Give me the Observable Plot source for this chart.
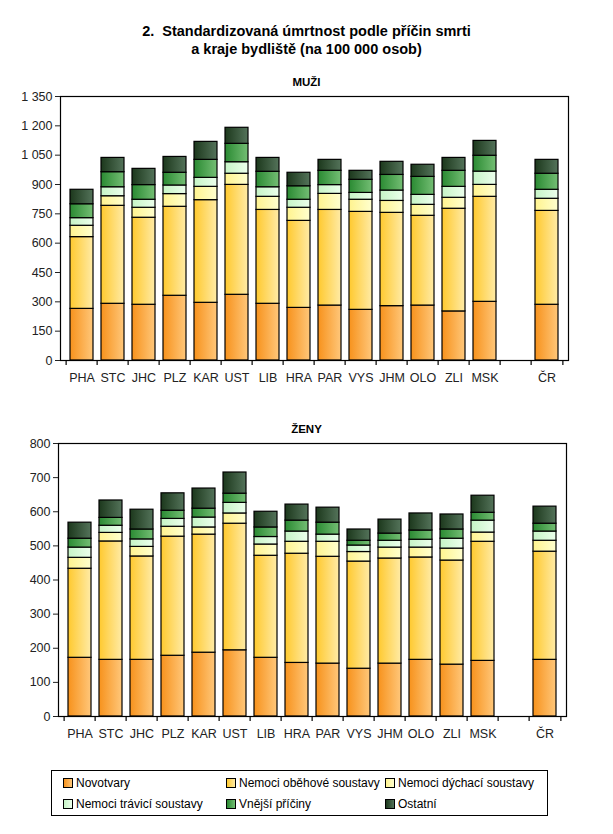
<!DOCTYPE html>
<html><head><meta charset="utf-8">
<script src="https://cdn.jsdelivr.net/npm/d3@7"></script>
<script src="https://cdn.jsdelivr.net/npm/@observablehq/plot@0.6"></script>
<style>
body{margin:0;background:#fff;font-family:"Liberation Sans",Arial,sans-serif;}
#wrap{position:relative;width:613px;height:834px;}
.t{position:absolute;left:0;width:613px;text-align:center;font-weight:bold;color:#000;}
#legend{position:absolute;left:51px;top:770px;width:495px;height:44px;border:1px solid #000;font-size:12px;}
.li{position:absolute;display:flex;align-items:center;white-space:nowrap;color:#000;}
.sw{width:10px;height:10px;border:1px solid #000;margin-right:3px;box-sizing:border-box;}
</style></head>
<body><div id="wrap">
<svg width="0" height="0" style="position:absolute">
<defs id="grads"></defs>
</svg>
<div class="t" style="top:22px;font-size:14.5px;line-height:18px;">2.&nbsp; Standardizovaná úmrtnost podle příčin smrti<br>a kraje bydliště (na 100 000 osob)</div>
<div class="t" style="top:76px;font-size:11.5px;">MUŽI</div>
<div id="c1" style="position:absolute;left:0;top:90px;"></div>
<div class="t" style="top:423px;font-size:11.5px;">ŽENY</div>
<div id="c2" style="position:absolute;left:0;top:437px;"></div>
<div id="legend"></div>
</div>
<script>
const regions = ["PHA","STC","JHC","PLZ","KAR","UST","LIB","HRA","PAR","VYS","JHM","OLO","ZLI","MSK"," ","ČR"];
const causes = ["Novotvary","Nemoci oběhové soustavy","Nemoci dýchací soustavy","Nemoci trávicí soustavy","Vnější příčiny","Ostatní"];
const gradLeft  = ["#f7921c","#ffc92e","#fff38f","#c6f4c6","#2a8a32","#1c381c"];
const gradRight = ["#ffc77a","#ffeba6","#ffffcf","#ecffec","#74be74","#54735a"];
// cumulative tops per cause (men), regions in order incl. blank slot (null)
const menNovotvary = [264,290,285,331,295,336,290,269,281,259,278,281,251,300,null,285];
const menObehove   = [631,791,730,786,820,898,770,714,770,760,755,740,776,837,null,765];
const menDychaci   = [689,840,781,851,888,955,837,781,852,822,816,796,832,898,null,827];
const menTravici   = [728,886,822,895,934,1014,886,822,897,857,869,847,888,966,null,873];
const menVnejsi    = [799,963,897,960,1026,1108,965,891,970,924,949,939,970,1047,null,955];
const menOstatni   = [873,1036,980,1041,1118,1190,1036,960,1026,970,1016,1001,1036,1123,null,1026];
const womenNovotvary = [172,166,166,178,187,194,172,157,155,140,155,166,152,163,null,166];
const womenObehove   = [433,513,469,527,533,565,471,477,468,454,463,466,457,512,null,483];
const womenDychaci   = [465,538,497,556,554,595,504,512,512,482,495,495,492,539,null,515];
const womenTravici   = [495,559,519,579,583,626,526,542,533,501,515,518,521,574,null,542];
const womenVnejsi    = [521,582,548,603,609,653,554,574,568,515,536,545,548,597,null,565];
const womenOstatni   = [568,633,606,654,668,715,600,621,612,548,577,595,592,647,null,615];
const menTicks = [0,150,300,450,600,750,900,1050,1200,1350];
const womenTicks = [0,100,200,300,400,500,600,700,800];

// gradients
const defs = document.getElementById("grads");
causes.forEach((c,i)=>{
  defs.insertAdjacentHTML("beforeend",
   `<linearGradient id="g${i}" x1="0" x2="1" y1="0" y2="0"><stop offset="0" stop-color="${gradLeft[i]}"/><stop offset="1" stop-color="${gradRight[i]}"/></linearGradient>`);
});

function toRows(series){
  const rows=[];
  regions.forEach((r,ri)=>{
    let prev=0;
    series.forEach((s,ci)=>{
      const v=s[ri];
      if(v==null) return;
      rows.push({region:r,cause:causes[ci],y1:prev,y2:v});
      prev=v;
    });
  });
  return rows;
}
const fmt = d => d3.format(",")(d).replace(/,/g," ");

function chart(series, ticks, ymax, height, plotH, ml, mr){
  const rows = toRows(series);
  const w = 613, step = (w-ml-mr)/regions.length;
  const below = -ymax*5/plotH;
  return Plot.plot({
    width: w, height, marginTop: 6, marginBottom: height-6-plotH, marginLeft: ml, marginRight: mr,
    style:{fontFamily:"'Liberation Sans',Arial,sans-serif", fontSize:"12px", color:"#222", background:"transparent"},
    x:{domain:regions, type:"band", paddingInner:0.27, paddingOuter:0.135, label:null},
    y:{domain:[0,ymax], label:null},
    color:{domain:causes, range:causes.map((c,i)=>`url(#g${i})`)},
    marks:[
      Plot.rectY(rows,{x:"region",y1:"y1",y2:"y2",fill:"cause",stroke:"#000",strokeWidth:1.2}),
      Plot.frame({stroke:"#000",strokeWidth:1.2}),
      Plot.axisY({ticks, tickSize:5, tickFormat:fmt, fontSize:12.5, tickPadding:3, label:null}),
      Plot.axisX({tickSize:0, tickPadding:13, fontSize:12.5, label:null}),
      Plot.ruleX(regions,{x:d=>d, dx:-step/2, y1:0, y2:below, stroke:"#000", strokeWidth:1.2, clip:false}),
      Plot.ruleX(regions.slice(-1),{x:d=>d, dx:step/2, y1:0, y2:below, stroke:"#000", strokeWidth:1.2, clip:false})
    ]
  });
}
document.getElementById("c1").append(chart([menNovotvary,menObehove,menDychaci,menTravici,menVnejsi,menOstatni], menTicks, 1350, 300, 264, 60, 45));
document.getElementById("c2").append(chart([womenNovotvary,womenObehove,womenDychaci,womenTravici,womenVnejsi,womenOstatni], womenTicks, 800, 309, 273, 58, 47));

// legend
const lg = document.getElementById("legend");
const pos = [[11,5],[174,5],[333,5],[11,26],[174,26],[333,26]];
causes.forEach((c,i)=>{
  const d=document.createElement("div");
  d.className="li"; d.style.left=pos[i][0]+"px"; d.style.top=pos[i][1]+"px";
  d.innerHTML=`<div class="sw" style="background:linear-gradient(to right,${gradLeft[i]},${gradRight[i]})"></div><span>${c}</span>`;
  lg.append(d);
});
</script>
</body></html>
